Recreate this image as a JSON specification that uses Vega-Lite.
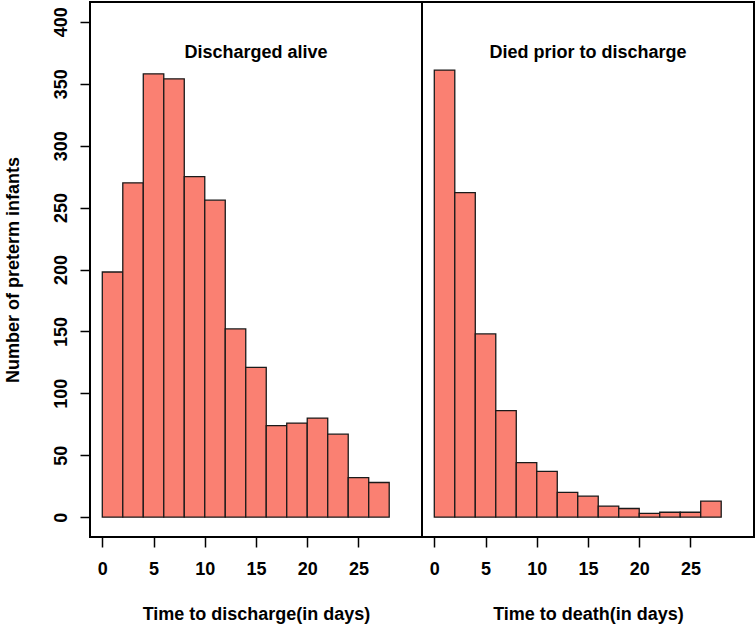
{
  "$schema": "https://vega.github.io/schema/vega-lite/v6.json",
  "background": "white",
  "padding": {"left": 3, "top": 1, "right": 2, "bottom": 2},
  "spacing": 0,
  "bounds": "flush",
  "datasets": {
    "bins": [
      {"panel": "alive", "start": 0, "end": 2, "count": 198},
      {"panel": "alive", "start": 2, "end": 4, "count": 270},
      {"panel": "alive", "start": 4, "end": 6, "count": 358},
      {"panel": "alive", "start": 6, "end": 8, "count": 354},
      {"panel": "alive", "start": 8, "end": 10, "count": 275},
      {"panel": "alive", "start": 10, "end": 12, "count": 256},
      {"panel": "alive", "start": 12, "end": 14, "count": 152},
      {"panel": "alive", "start": 14, "end": 16, "count": 121},
      {"panel": "alive", "start": 16, "end": 18, "count": 74},
      {"panel": "alive", "start": 18, "end": 20, "count": 76},
      {"panel": "alive", "start": 20, "end": 22, "count": 80},
      {"panel": "alive", "start": 22, "end": 24, "count": 67},
      {"panel": "alive", "start": 24, "end": 26, "count": 32},
      {"panel": "alive", "start": 26, "end": 28, "count": 28},
      {"panel": "died", "start": 0, "end": 2, "count": 361},
      {"panel": "died", "start": 2, "end": 4, "count": 262},
      {"panel": "died", "start": 4, "end": 6, "count": 148},
      {"panel": "died", "start": 6, "end": 8, "count": 86},
      {"panel": "died", "start": 8, "end": 10, "count": 44},
      {"panel": "died", "start": 10, "end": 12, "count": 37},
      {"panel": "died", "start": 12, "end": 14, "count": 20},
      {"panel": "died", "start": 14, "end": 16, "count": 17},
      {"panel": "died", "start": 16, "end": 18, "count": 9},
      {"panel": "died", "start": 18, "end": 20, "count": 7},
      {"panel": "died", "start": 20, "end": 22, "count": 3},
      {"panel": "died", "start": 22, "end": 24, "count": 4},
      {"panel": "died", "start": 24, "end": 26, "count": 4},
      {"panel": "died", "start": 26, "end": 28, "count": 13}
    ],
    "labels": [
      {"panel": "alive", "x": 15, "y": 375, "label": "Discharged alive"},
      {"panel": "died", "x": 15, "y": 375, "label": "Died prior to discharge"}
    ]
  },
  "hconcat": [
    {
      "width": 332,
      "height": 535,
      "layer": [
        {
          "data": {"name": "bins"},
          "transform": [{"filter": "datum.panel == 'alive'"}],
          "mark": {"type": "bar", "fill": "#FA8072", "stroke": "#1a1a1a", "strokeWidth": 1.3},
          "encoding": {
            "x": {
              "field": "start",
              "type": "quantitative",
              "scale": {"domain": [-1.2, 31.2], "nice": false, "zero": false},
              "axis": {"title": "Time to discharge(in days)", "values": [0, 5, 10, 15, 20, 25]}
            },
            "x2": {"field": "end"},
            "y": {
              "field": "count",
              "type": "quantitative",
              "scale": {"domain": [-16, 416], "nice": false},
              "axis": {
                "title": "Number of preterm infants",
                "values": [0, 50, 100, 150, 200, 250, 300, 350, 400],
                "labelAngle": 270,
                "labelAlign": "center",
                "labelBaseline": "bottom",
                "labelPadding": 10,
                "titlePadding": 30
              }
            },
            "y2": {"datum": 0}
          }
        },
        {
          "data": {"name": "labels"},
          "transform": [{"filter": "datum.panel == 'alive'"}],
          "mark": {"type": "text", "font": "Liberation Sans", "fontWeight": "bold", "fontSize": 18, "color": "black"},
          "encoding": {
            "x": {"field": "x", "type": "quantitative"},
            "y": {"field": "y", "type": "quantitative"},
            "text": {"field": "label"}
          }
        }
      ]
    },
    {
      "width": 332,
      "height": 535,
      "layer": [
        {
          "data": {"name": "bins"},
          "transform": [{"filter": "datum.panel == 'died'"}],
          "mark": {"type": "bar", "fill": "#FA8072", "stroke": "#1a1a1a", "strokeWidth": 1.3},
          "encoding": {
            "x": {
              "field": "start",
              "type": "quantitative",
              "scale": {"domain": [-1.2, 31.2], "nice": false, "zero": false},
              "axis": {"title": "Time to death(in days)", "values": [0, 5, 10, 15, 20, 25]}
            },
            "x2": {"field": "end"},
            "y": {
              "field": "count",
              "type": "quantitative",
              "scale": {"domain": [-16, 416], "nice": false},
              "axis": null
            },
            "y2": {"datum": 0}
          }
        },
        {
          "data": {"name": "labels"},
          "transform": [{"filter": "datum.panel == 'died'"}],
          "mark": {"type": "text", "font": "Liberation Sans", "fontWeight": "bold", "fontSize": 18, "color": "black"},
          "encoding": {
            "x": {"field": "x", "type": "quantitative"},
            "y": {"field": "y", "type": "quantitative"},
            "text": {"field": "label"}
          }
        }
      ]
    }
  ],
  "config": {
    "font": "Liberation Sans",
    "view": {"stroke": "black", "strokeWidth": 2},
    "axis": {
      "grid": false,
      "domain": false,
      "tickColor": "black",
      "tickSize": 10,
      "tickWidth": 1.5,
      "labelColor": "black",
      "labelFont": "Liberation Sans",
      "labelFontSize": 18,
      "labelFontWeight": "bold",
      "titleColor": "black",
      "titleFont": "Liberation Sans",
      "titleFontSize": 18,
      "titleFontWeight": "bold"
    },
    "axisX": {"labelPadding": 13, "titlePadding": 27, "labelFlush": false}
  }
}
